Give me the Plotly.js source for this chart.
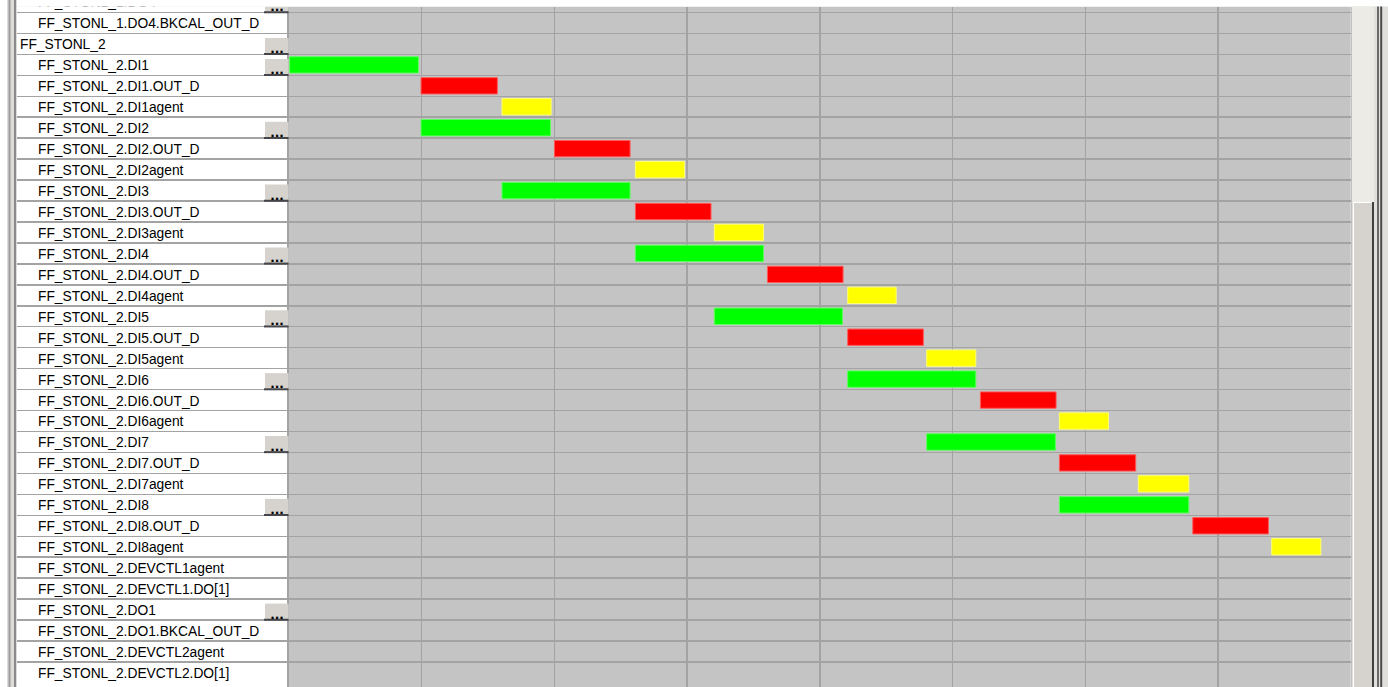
<!DOCTYPE html>
<html>
<head>
<meta charset="utf-8">
<script src="https://cdn.plot.ly/plotly-3.0.1.min.js"></script>
<style>
  html, body { margin: 0; padding: 0; background: #ffffff; }
  #chart { width: 1388px; height: 687px; }
</style>
</head>
<body>
<div id="chart"></div>
<script>
// ---- row labels (tree view, top to bottom) ----
const categories = [
  "FF_STONL_1.DO4",
  "FF_STONL_1.DO4.BKCAL_OUT_D",
  "FF_STONL_2",
  "FF_STONL_2.DI1",
  "FF_STONL_2.DI1.OUT_D",
  "FF_STONL_2.DI1agent",
  "FF_STONL_2.DI2",
  "FF_STONL_2.DI2.OUT_D",
  "FF_STONL_2.DI2agent",
  "FF_STONL_2.DI3",
  "FF_STONL_2.DI3.OUT_D",
  "FF_STONL_2.DI3agent",
  "FF_STONL_2.DI4",
  "FF_STONL_2.DI4.OUT_D",
  "FF_STONL_2.DI4agent",
  "FF_STONL_2.DI5",
  "FF_STONL_2.DI5.OUT_D",
  "FF_STONL_2.DI5agent",
  "FF_STONL_2.DI6",
  "FF_STONL_2.DI6.OUT_D",
  "FF_STONL_2.DI6agent",
  "FF_STONL_2.DI7",
  "FF_STONL_2.DI7.OUT_D",
  "FF_STONL_2.DI7agent",
  "FF_STONL_2.DI8",
  "FF_STONL_2.DI8.OUT_D",
  "FF_STONL_2.DI8agent",
  "FF_STONL_2.DEVCTL1agent",
  "FF_STONL_2.DEVCTL1.DO[1]",
  "FF_STONL_2.DO1",
  "FF_STONL_2.DO1.BKCAL_OUT_D",
  "FF_STONL_2.DEVCTL2agent",
  "FF_STONL_2.DEVCTL2.DO[1]"
];
// tree level of each row (0 = group node)
const treeLevel = [1,1,0,1,1,1,1,1,1,1,1,1,1,1,1,1,1,1,1,1,1,1,1,1,1,1,1,1,1,1,1,1,1];
// rows that carry a "..." button
const buttonRows = [
  "FF_STONL_1.DO4", "FF_STONL_2", "FF_STONL_2.DI1", "FF_STONL_2.DI2",
  "FF_STONL_2.DI3", "FF_STONL_2.DI4", "FF_STONL_2.DI5", "FF_STONL_2.DI6",
  "FF_STONL_2.DI7", "FF_STONL_2.DI8", "FF_STONL_2.DO1"
];
const buttonText = "...";

// ---- schedule (time units, one grid cell = 10) ----
const blockRows   = ["FF_STONL_2.DI1","FF_STONL_2.DI2","FF_STONL_2.DI3","FF_STONL_2.DI4","FF_STONL_2.DI5","FF_STONL_2.DI6","FF_STONL_2.DI7","FF_STONL_2.DI8"];
const blockStart  = [0.05, 9.95, 16.05, 26.1, 32.05, 42.1, 48.05, 58.05];
const blockEnd    = [9.75, 19.7, 25.7, 35.75, 41.7, 51.75, 57.75, 67.8];

const outRows     = ["FF_STONL_2.DI1.OUT_D","FF_STONL_2.DI2.OUT_D","FF_STONL_2.DI3.OUT_D","FF_STONL_2.DI4.OUT_D","FF_STONL_2.DI5.OUT_D","FF_STONL_2.DI6.OUT_D","FF_STONL_2.DI7.OUT_D","FF_STONL_2.DI8.OUT_D"];
const outStart    = [9.95, 20.0, 26.1, 36.05, 42.1, 52.1, 58.05, 68.1];
const outEnd      = [15.7, 25.7, 31.8, 41.75, 47.8, 57.8, 63.8, 73.8];

const agentRows   = ["FF_STONL_2.DI1agent","FF_STONL_2.DI2agent","FF_STONL_2.DI3agent","FF_STONL_2.DI4agent","FF_STONL_2.DI5agent","FF_STONL_2.DI6agent","FF_STONL_2.DI7agent","FF_STONL_2.DI8agent"];
const agentStart  = [16.05, 26.1, 32.05, 42.1, 48.05, 58.05, 64.0, 74.05];
const agentEnd    = [19.75, 29.8, 35.75, 45.75, 51.75, 61.75, 67.8, 77.75];

const W = 1388, H = 687;
const GRID_BG = '#c4c4c4', GRID_LINE = '#a3a3a3';
const px = v => v / W;              // paper x from pixel
const py = v => 1 - v / H;          // paper y from pixel

function barTrace(rows, s, e, color, edge) {
  return {
    type: 'bar', orientation: 'h',
    y: rows, base: s, x: s.map((v, i) => e[i] - v),
    width: 0.78,
    marker: { color: color, line: { color: edge, width: 1 } },
    xaxis: 'x', yaxis: 'y', hoverinfo: 'skip'
  };
}

const traces = [
  barTrace(blockRows, blockStart, blockEnd, '#00ff00', '#5cff5c'),
  barTrace(outRows, outStart, outEnd, '#ff0000', '#ff5a5a'),
  barTrace(agentRows, agentStart, agentEnd, '#ffff00', '#ffff70'),
  {
    type: 'scatter', mode: 'text', xaxis: 'x2', yaxis: 'y',
    x: buttonRows.map(() => 277), y: buttonRows, text: buttonRows.map(() => buttonText),
    textposition: 'bottom center', cliponaxis: true, hoverinfo: 'skip',
    textfont: { family: 'DejaVu Sans', size: 12, color: '#000000', weight: 'bold' }
  },
  {
    type: 'scatter', mode: 'text', xaxis: 'x2', yaxis: 'y2',
    x: treeLevel.map(l => 20 + 18 * l), y: categories, text: categories,
    textposition: 'middle right', cliponaxis: true, hoverinfo: 'skip',
    textfont: { family: 'Liberation Sans, Arial, sans-serif', size: 13.8, color: '#000000' }
  }
];

const ROW_PX = 20.95;
const topPx = 6.5;
const shapes = [];
// white tree panel
shapes.push({ type: 'rect', layer: 'below', xref: 'x2 domain', yref: 'y domain', x0: 0, x1: 1, y0: 0, y1: 1,
  fillcolor: '#ffffff', line: { width: 0 } });
// buttons
buttonRows.forEach(name => {
  const r = categories.indexOf(name);
  shapes.push({ type: 'rect', layer: 'between', xref: 'x2', yref: 'y', x0: 265, x1: 288.6,
    y0: r + 0.5, y1: r - 0.5 + 4.5 / ROW_PX, fillcolor: '#d6d3ce', line: { width: 0 } });
  shapes.push({ type: 'line', layer: 'between', xref: 'x2', yref: 'y', x0: 264, x1: 288.6,
    y0: r + 0.5 - 0.3 / ROW_PX, y1: r + 0.5 - 0.3 / ROW_PX, line: { color: '#45454a', width: 2 } });
});
// header strip that hides the row scrolled out at the top
shapes.push({ type: 'rect', layer: 'above', xref: 'paper', yref: 'paper', x0: px(17), x1: px(1351), y0: py(topPx), y1: 1,
  fillcolor: '#ffffff', line: { width: 0 } });
// left window edge
shapes.push({ type: 'rect', layer: 'above', xref: 'paper', yref: 'paper', x0: px(7), x1: px(17), y0: 0, y1: 1,
  fillcolor: '#dcdbd7', line: { width: 0 } });
shapes.push({ type: 'line', layer: 'above', xref: 'paper', yref: 'paper', x0: px(9.5), x1: px(9.5), y0: 0, y1: 1,
  line: { color: '#9c9c9c', width: 2 } });
shapes.push({ type: 'line', layer: 'above', xref: 'paper', yref: 'paper', x0: px(15), x1: px(15), y0: 0, y1: 1,
  line: { color: '#8a8a8a', width: 2 } });
// vertical scrollbar
shapes.push({ type: 'rect', layer: 'above', xref: 'paper', yref: 'paper', x0: px(1351.5), x1: px(1388), y0: 0, y1: py(topPx),
  fillcolor: '#e0dfdb', line: { width: 0 } });
shapes.push({ type: 'rect', layer: 'above', xref: 'paper', yref: 'paper', x0: px(1352), x1: px(1374), y0: py(202), y1: py(topPx),
  fillcolor: '#ecebe6', line: { width: 0 } });
shapes.push({ type: 'rect', layer: 'above', xref: 'paper', yref: 'paper', x0: px(1353), x1: px(1372), y0: 0, y1: py(202),
  fillcolor: '#d6d3ce', line: { width: 0 } });
shapes.push({ type: 'line', layer: 'above', xref: 'paper', yref: 'paper', x0: px(1353.5), x1: px(1353.5), y0: 0, y1: py(202),
  line: { color: '#ffffff', width: 1 } });
shapes.push({ type: 'line', layer: 'above', xref: 'paper', yref: 'paper', x0: px(1353), x1: px(1372), y0: py(202.5), y1: py(202.5),
  line: { color: '#ffffff', width: 1 } });
shapes.push({ type: 'line', layer: 'above', xref: 'paper', yref: 'paper', x0: px(1373), x1: px(1373), y0: 0, y1: py(202),
  line: { color: '#404040', width: 2 } });
shapes.push({ type: 'line', layer: 'above', xref: 'paper', yref: 'paper', x0: px(1378), x1: px(1378), y0: 0, y1: py(topPx),
  line: { color: '#6a6a6a', width: 2 } });
shapes.push({ type: 'line', layer: 'above', xref: 'paper', yref: 'paper', x0: px(1381.2), x1: px(1381.2), y0: 0, y1: py(topPx),
  line: { color: '#4a4a4a', width: 2 } });

// row centre in pixels: 2.02 + 20.95 * index ; plot top at 6.5 px
const yTop = (topPx - 2.02) / ROW_PX;
const yBottom = (H - 2.02) / ROW_PX;
const labelShift = 2 / ROW_PX;   // labels sit ~2px lower than the row centre

const layout = {
  width: W, height: H,
  margin: { l: 0, r: 0, t: 0, b: 0, pad: 0 },
  paper_bgcolor: '#ffffff', plot_bgcolor: GRID_BG,
  showlegend: false, barmode: 'overlay', bargap: 0,
  xaxis: {
    domain: [289 / W, 1350.7 / W], range: [0, 80], dtick: 10, tick0: 0,
    showticklabels: false, ticks: '', zeroline: false,
    showgrid: true, gridcolor: GRID_LINE, gridwidth: 1.5, fixedrange: true, anchor: 'y'
  },
  xaxis2: { domain: [17 / W, 289 / W], range: [17, 289], visible: false, anchor: 'y', fixedrange: true },
  yaxis: {
    domain: [0, 1 - topPx / H], type: 'category',
    categoryorder: 'array', categoryarray: categories,
    range: [yBottom, yTop], tickson: 'boundaries',
    showticklabels: false, ticks: '', zeroline: false,
    showgrid: true, gridcolor: GRID_LINE, gridwidth: 1.5,
    showline: true, mirror: true, linecolor: GRID_LINE, linewidth: 2, fixedrange: true
  },
  yaxis2: {
    overlaying: 'y', type: 'category',
    categoryorder: 'array', categoryarray: categories,
    range: [yBottom - labelShift, yTop - labelShift],
    visible: false, showgrid: false, anchor: 'x2', fixedrange: true
  },
  shapes: shapes
};

Plotly.newPlot('chart', traces, layout, { displayModeBar: false, staticPlot: true });
</script>
</body>
</html>
